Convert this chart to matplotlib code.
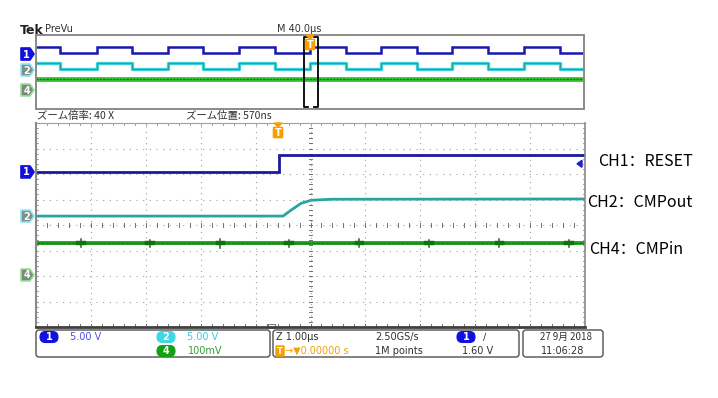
"""
Oscilloscope capture (Tek PreVu + 40x zoom) redrawn with matplotlib.
"""
import matplotlib
matplotlib.use("Agg")
import matplotlib.pyplot as plt
from matplotlib.patches import FancyBboxPatch, Polygon, Rectangle

W, H = 718, 398

# ---- data (read from the screen capture) ----
# preview record: 40 us/div, edges of the RESET / CMPout square wave (us)
preview_span_us = [-200.0, 200.0]
preview_edges_us = [-182.5, -155.5, -130.0, -103.6, -78.0, -51.8, -25.5, 0.0,
                    26.3, 51.8, 78.0, 103.6, 130.0, 156.0, 182.5]
preview_start_high = True

# zoom window: 1 us/div, zoom position 570 ns
zoom_span_us = [-4.43, 5.57]
ch1_step_us = 0.0
ch1_high_v = 3.3
ch2_t_us = [-4.43, 0.07, 0.22, 0.40, 0.58, 0.95, 5.57]
ch2_v = [0.0, 0.0, 1.2, 2.5, 3.1, 3.3, 3.35]
ch4_level_mv = 125.0
ch4_spike_us = [-3.61, -2.35, -1.07, 0.18, 1.46, 2.73, 4.01, 5.28]
ch4_spike_mv = [16, 14, 18, 14, 16, 14, 15, 14]

# vertical settings: volts/div and ground position (div from centre)
ch_scale = {"1": 5.0, "2": 5.0, "4": 0.1}
ch_pos = {"1": 2.08, "2": 0.35, "4": -1.96}
trig_level_v = 1.60

labels = ["CH1\uff1aRESET", "CH2\uff1aCMPout", "CH4\uff1aCMPin"]

C1 = "#1a1a9a"
C2 = "#2aa3a3"
C2L = "#40d4dc"
C4 = "#22a022"
ORANGE = "#f5a000"
JP = ["Noto Sans CJK JP", "DejaVu Sans"]


def px_axes(fig, x0, y0, x1, y1):
    return fig.add_axes([x0 / W, 1 - y1 / H, (x1 - x0) / W, (y1 - y0) / H])


def div(ch, volts):
    return ch_pos[ch] + volts / ch_scale[ch]


def step_wave(edges, start_high, span, high):
    t, v = [span[0]], [high if start_high else 0.0]
    cur = start_high
    for e in edges:
        t += [e, e]
        v += [high if cur else 0.0, 0.0 if cur else high]
        cur = not cur
    t.append(span[1])
    v.append(high if cur else 0.0)
    return t, v


def ch_marker(ax, x0, y, num, face, edge, h=6):
    pts = [(x0, y - h), (x0 + 9, y - h), (x0 + 13, y), (x0 + 9, y + h), (x0, y + h)]
    ax.add_patch(Polygon(pts, closed=True, facecolor=face, edgecolor=edge,
                         lw=1.2, joinstyle="round", zorder=5))
    ax.text(x0 + 5.5, y + 0.5, num, color="white", fontsize=7, weight="bold",
            ha="center", va="center", zorder=6)


def trig_marker(ax, x, ytop):
    ax.add_patch(Polygon([(x - 4, ytop), (x + 4, ytop), (x, ytop + 4)],
                         closed=True, color=ORANGE, zorder=6))
    ax.add_patch(FancyBboxPatch((x - 4, ytop + 5), 8, 9, boxstyle="round,pad=0.6",
                                facecolor=ORANGE, edgecolor=ORANGE, zorder=6))
    ax.text(x, ytop + 10, "T", color="white", fontsize=7, weight="bold",
            ha="center", va="center", zorder=7)


def oval(ax, x0, x1, y, num, face):
    ax.add_patch(FancyBboxPatch((x0, y - 5.5), x1 - x0, 11,
                                boxstyle="round,pad=0,rounding_size=5.5",
                                facecolor=face, edgecolor=face, lw=0.8, zorder=5))
    ax.text((x0 + x1) / 2, y + 0.5, num, color="white", fontsize=7, weight="bold",
            ha="center", va="center", zorder=6)


def main():
    fig = plt.figure(figsize=(W / 100, H / 100), dpi=100)
    fig.patch.set_facecolor("white")

    # ---- preview panel ----
    pv = px_axes(fig, 36, 35, 584, 109)
    pv.set_xlim(*preview_span_us)
    pv.set_ylim(-4, 4)
    pv.axis("off")
    t, v = step_wave(preview_edges_us, preview_start_high, preview_span_us, ch1_high_v)
    pv.plot(t, [div("1", x) for x in v], color="#1818b0", lw=1.8,
            solid_joinstyle="miter")
    pv.plot(t, [div("2", x) for x in v], color=C2L, lw=2.4)
    pv.plot(t, [div("2", x) for x in v], color=C2, lw=0.9)
    pv.plot(preview_span_us, [div("4", ch4_level_mv / 1000)] * 2, color="#30c030", lw=3.4)
    pv.plot(preview_span_us, [div("4", ch4_level_mv / 1000)] * 2, color="#157a15", lw=0.8,
            ls=(0, (2, 1)))

    # ---- zoom panel ----
    mz = px_axes(fig, 36, 123, 585, 327)
    mz.set_xlim(*zoom_span_us)
    mz.set_ylim(-4, 4)
    mz.axis("off")
    x0u, x1u = zoom_span_us
    dx = (x1u - x0u) / 10
    for i in range(1, 10):
        mz.axvline(x0u + i * dx, color="#a0a0a0", lw=0.8, ls=(0, (1, 4)))
    for j in range(-3, 4):
        mz.axhline(j, color="#a0a0a0", lw=0.8, ls=(0, (1, 5)))
    xc = x0u + 5 * dx
    for k in range(1, 50):
        xt = x0u + k * dx / 5
        mz.plot([xt, xt], [-0.08, 0.08], color="#707070", lw=0.7)
        mz.plot([xt, xt], [-4, -3.9], color="#707070", lw=0.7)
        mz.plot([xt, xt], [4, 3.92], color="#909090", lw=0.6)
    for k in range(-19, 20):
        yt = k / 5
        mz.plot([xc - 0.035, xc + 0.035], [yt, yt], color="#707070", lw=0.7)
        mz.plot([x0u, x0u + 0.035], [yt, yt], color="#909090", lw=0.6)
        mz.plot([x1u, x1u - 0.035], [yt, yt], color="#909090", lw=0.6)

    mz.plot([x0u, ch1_step_us, ch1_step_us, x1u],
            [div("1", 0), div("1", 0), div("1", ch1_high_v), div("1", ch1_high_v)],
            color=C1, lw=2.0, solid_joinstyle="miter")
    mz.plot(ch2_t_us, [div("2", x) for x in ch2_v], color=C2, lw=2.0)

    base = div("4", ch4_level_mv / 1000)
    mz.plot([x0u, x1u], [base, base], color=C4, lw=2.8)
    mz.plot([x0u, x1u], [base, base], color="#177a17", lw=0.8, ls=(0, (3, 1)))
    for s, a in zip(ch4_spike_us, ch4_spike_mv):
        amp = a / 1000 / ch_scale["4"]
        mz.plot([s, s], [base - amp, base + amp], color="#157015", lw=1.1)
        mz.plot([s - 0.05, s + 0.05], [base, base], color="#157015", lw=3.2)

    # ---- overlay for frame, markers and text ----
    ov = fig.add_axes([0, 0, 1, 1], zorder=10)
    ov.set_xlim(0, W)
    ov.set_ylim(H, 0)
    ov.axis("off")
    ov.patch.set_alpha(0)

    ov.add_patch(Rectangle((36, 35), 548, 74, fill=False, edgecolor="#8a8a8a", lw=1.4))
    ov.plot([36, 585], [123, 123], color="#a0a0a0", lw=0.8)
    ov.plot([36, 36], [123, 327], color="#8a8a8a", lw=1.5)
    ov.plot([585, 585], [123, 327], color="#8a8a8a", lw=1.2)
    ov.plot([36, 585], [327, 327], color="#404040", lw=2.0)
    ov.add_patch(Rectangle((268, 324), 7, 4, facecolor="white", edgecolor="#606060", lw=0.6))

    # zoom bracket on the preview
    ov.plot([308, 304, 304, 308], [37, 37, 107, 107], color="black", lw=1.3)
    ov.plot([314, 318, 318, 314], [37, 37, 107, 107], color="black", lw=1.3)
    trig_marker(ov, 310, 35)
    trig_marker(ov, 278, 123)

    # trigger level indicator
    ty = 225 - div("1", trig_level_v) * 25.5
    ov.add_patch(Polygon([(577, ty), (582, ty - 3.5), (582, ty + 3.5)], closed=True,
                         color="#2020d0", zorder=6))

    ch_marker(ov, 21, 54, "1", "#1010d8", "#1010d8")
    ch_marker(ov, 21, 70, "2", "#7f8f8f", "#8ee8ec")
    ch_marker(ov, 21, 90, "4", "#7a8a7a", "#9ae09a")
    ch_marker(ov, 21, 225 - ch_pos["1"] * 25.5, "1", "#1010d8", "#1010d8")
    ch_marker(ov, 21, 225 - ch_pos["2"] * 25.5, "2", "#7f8f8f", "#8ee8ec")
    ch_marker(ov, 21, 225 - ch_pos["4"] * 25.5, "4", "#7a8a7a", "#9ae09a")

    ov.text(20, 30, "Tek", fontsize=9, weight="bold", color="#202020", va="center")
    ov.text(45, 29, "PreVu", fontsize=7, color="#303030", va="center")
    ov.text(277, 29, "M 40.0\u00b5s", fontsize=7, color="#303030", va="center")
    ov.text(37, 116, "ズーム倍率: 40 X", fontsize=7.5, color="#303030", va="center", family=JP)
    ov.text(186, 116, "ズーム位置: 570ns", fontsize=7.5, color="#303030", va="center", family=JP)

    for txt, x, y in zip(labels, [598, 587, 589], [161, 202, 249]):
        ov.text(x, y, txt, fontsize=11.5, color="black", va="center",
                family=["Noto Sans CJK SC", "DejaVu Sans"])

    # ---- status bar ----
    for x0, x1 in [(36, 270), (273, 519), (523, 603)]:
        ov.add_patch(FancyBboxPatch((x0 + 3, 333), x1 - x0 - 6, 21,
                                    boxstyle="round,pad=3", facecolor="white",
                                    edgecolor="#505050", lw=1.0))
    r1, r2 = 337, 351
    oval(ov, 40, 58, r1, "1", "#1010e0")
    ov.text(70, r1, "5.00 V", fontsize=7, color="#5050e0", va="center")
    oval(ov, 157, 175, r1, "2", "#40d8e0")
    ov.text(187, r1, "5.00 V", fontsize=7, color="#30d0e0", va="center")
    oval(ov, 157, 175, r2, "4", "#10a010")
    ov.text(188, r2, "100mV", fontsize=7, color="#30a030", va="center")

    ov.text(276, r1, "Z 1.00\u00b5s", fontsize=7, color="#303030", va="center")
    ov.add_patch(FancyBboxPatch((276.5, r2 - 4.5), 7, 9, boxstyle="round,pad=0.5",
                                facecolor=ORANGE, edgecolor=ORANGE))
    ov.text(280, r2 + 0.5, "T", fontsize=6, color="white", weight="bold",
            ha="center", va="center")
    ov.text(285, r2, "\u2192\u25bc0.00000 s", fontsize=7, color=ORANGE, va="center")
    ov.text(375, r1, "2.50GS/s", fontsize=7, color="#303030", va="center")
    ov.text(375, r2, "1M points", fontsize=7, color="#303030", va="center")
    oval(ov, 457, 475, r1, "1", "#1010e0")
    ov.text(483, r1, "\u2215", fontsize=7, color="#303030", va="center")
    ov.text(462, r2, "1.60 V", fontsize=7, color="#303030", va="center")
    ov.text(540, r1, "27 9月 2018", fontsize=7, color="#303030", va="center", family=JP)
    ov.text(541, r2, "11:06:28", fontsize=7, color="#303030", va="center")

    fig.savefig("out.png", dpi=100, facecolor="white")
    plt.close(fig)


if __name__ == "__main__":
    main()
